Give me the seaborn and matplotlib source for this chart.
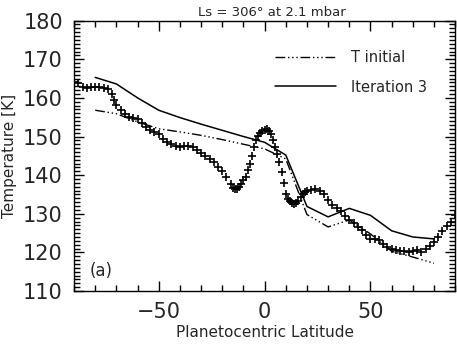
import pandas as pd
import seaborn as sns
import matplotlib.pyplot as plt
from matplotlib.ticker import MultipleLocator

# model profiles, knots every 10 deg
model_lat = [-80, -70, -60, -50, -40, -30, -20, -10, 0, 10, 20, 30, 40, 50, 60, 70, 80]
t_initial = [156.8, 155.9, 153.8, 152.0, 151.2, 150.3, 149.2, 148.0, 146.8, 144.2,
             129.8, 126.6, 128.4, 124.8, 120.3, 118.8, 117.2]
iteration3 = [165.3, 163.6, 160.0, 156.8, 154.9, 153.2, 151.6, 150.0, 148.5, 145.2,
              131.9, 129.2, 131.4, 129.6, 125.6, 124.0, 123.5]

# observed temperatures (crosses)
obs_lat = [-90, -88, -86, -84, -82, -80, -78, -76, -74, -72, -71, -70, -68, -66, -64,
           -62, -60, -58, -56, -54, -52, -50, -48, -46, -44, -42, -40, -38, -36, -34,
           -32, -30, -28, -26, -24, -22, -20, -18, -16, -15, -14, -13, -12, -11, -10,
           -9, -8, -7, -6, -5, -4, -3, -2, -1, 0, 1, 2, 3, 4, 5, 6, 7, 8, 9, 10, 11,
           12, 13, 14, 15, 16, 17, 18, 19, 20, 22, 24, 26, 28, 30, 32, 34, 36, 38, 40,
           42, 44, 46, 48, 50, 52, 54, 56, 58, 60, 62, 64, 66, 68, 70, 72, 74, 76, 78,
           80, 82, 84, 86, 88, 90]
obs_temp = [164.1, 163.8, 162.8, 162.6, 162.8, 162.9, 162.9, 162.6, 162.2, 161.0,
            159.5, 158.2, 156.8, 155.7, 155.0, 154.8, 154.5, 153.4, 152.4, 151.6,
            151.2, 150.6, 149.4, 148.5, 148.0, 147.6, 147.4, 147.5, 147.6, 147.2,
            146.5, 145.8, 145.0, 144.2, 143.5, 142.2, 141.0, 139.5, 137.6, 136.8,
            136.4, 136.5, 137.0, 137.8, 138.7, 139.6, 141.3, 143.0, 145.0, 147.3,
            149.0, 150.2, 150.9, 151.3, 151.8, 152.0, 151.4, 150.6, 149.0, 147.4,
            145.6, 143.3, 140.8, 138.0, 135.0, 133.8, 133.2, 132.8, 132.5, 132.7,
            133.3, 134.3, 135.2, 135.7, 136.0, 136.2, 136.3, 136.0, 135.0, 133.5,
            132.4, 131.4, 130.6, 129.3, 128.3, 127.5, 126.6, 125.8, 124.6, 123.5,
            123.6, 123.2, 122.2, 121.4, 120.8, 120.5, 120.4, 120.3, 120.1, 120.4,
            120.6, 120.0, 120.8, 121.6, 122.8, 124.0, 125.6, 126.8, 128.0, 129.6]

model = pd.DataFrame({"lat": model_lat, "T initial": t_initial, "Iteration 3": iteration3})
obs = pd.DataFrame({"lat": obs_lat, "T": obs_temp})


def make_plot(cross_mode, manual_ticks=False):
    sns.set_style("ticks")
    plt.rcParams['font.family'] = ['DejaVu Sans']

    fig = plt.figure(figsize=(4.57, 3.49), dpi=100)
    ax = fig.add_axes([0.162, 0.166, 0.834, 0.775])

    sns.lineplot(data=model, x="lat", y="T initial", ax=ax, color="black", lw=1.0,
                 dashes=False, linestyle=(0, (7, 2, 1, 2, 1, 2, 1, 2)), label="T initial")
    sns.lineplot(data=model, x="lat", y="Iteration 3", ax=ax, color="black", lw=1.1,
                 label="Iteration 3")
    if cross_mode == "scatter":
        sns.scatterplot(data=obs, x="lat", y="T", ax=ax, marker="+", s=40,
                        color="black", linewidth=1.2, zorder=3)
    else:
        sns.lineplot(data=obs, x="lat", y="T", ax=ax, marker="+", markersize=7,
                     markeredgewidth=1.2, linestyle="", color="black", zorder=3)

    ax.set_xlim(-90, 90)
    ax.set_ylim(110, 180)
    ax.set_xticks([-50, 0, 50])
    ax.set_xticklabels(["\u221250", "0", "50"])
    ax.xaxis.set_minor_locator(MultipleLocator(10))
    ax.yaxis.set_major_locator(MultipleLocator(10))
    ax.yaxis.set_minor_locator(MultipleLocator(1))
    ax.tick_params(which="both", direction="in", top=True, right=True, bottom=True,
                   left=True, width=1.0, color="black")
    ax.tick_params(which="major", length=7, labelsize=15, pad=8)
    ax.tick_params(which="minor", length=4)
    for s in ax.spines.values():
        s.set_linewidth(1.0)
        s.set_color("black")

    if manual_ticks:
        # fallback: draw the tick marks as short segments in axes fraction
        xt = ax.get_xaxis_transform()
        yt = ax.get_yaxis_transform()
        for v in range(-80, 90, 10):
            h = 0.036 if v % 50 == 0 else 0.02
            ax.plot([v, v], [0, h], color="black", lw=1.0, transform=xt, clip_on=False)
            ax.plot([v, v], [1, 1 - h], color="black", lw=1.0, transform=xt, clip_on=False)
        for v in range(111, 180):
            w = 0.024 if v % 10 == 0 else 0.013
            ax.plot([0, w], [v, v], color="black", lw=1.0, transform=yt, clip_on=False)
            ax.plot([1, 1 - w], [v, v], color="black", lw=1.0, transform=yt, clip_on=False)

    ax.set_xlabel("Planetocentric Latitude", fontsize=11, labelpad=2)
    ax.set_ylabel("Temperature [K]", fontsize=11, labelpad=4)
    ax.set_title("Ls = 306\u00b0 at 2.1 mbar", fontsize=9.5, pad=3, x=0.52)
    ax.text(-77, 115.3, "(a)", fontsize=12, ha="center", va="center")

    handles, labels = ax.get_legend_handles_labels()
    ax.legend(handles[:2], labels[:2], loc="upper right", frameon=False, fontsize=10.5,
              handlelength=4.2, bbox_to_anchor=(0.96, 0.94), labelspacing=1.0,
              handletextpad=1.0)

    fig.savefig("out.png", dpi=100)
    plt.close(fig)


def ticks_drawn():
    # count dark pixels just inside the left spine, below the data
    img = plt.imread("out.png")
    col = img[150:285, 77, :3].mean(axis=1)
    return (col < 0.5).sum() > 20


make_plot("scatter")
if not ticks_drawn():
    make_plot("markers")
    if not ticks_drawn():
        make_plot("markers", manual_ticks=True)
